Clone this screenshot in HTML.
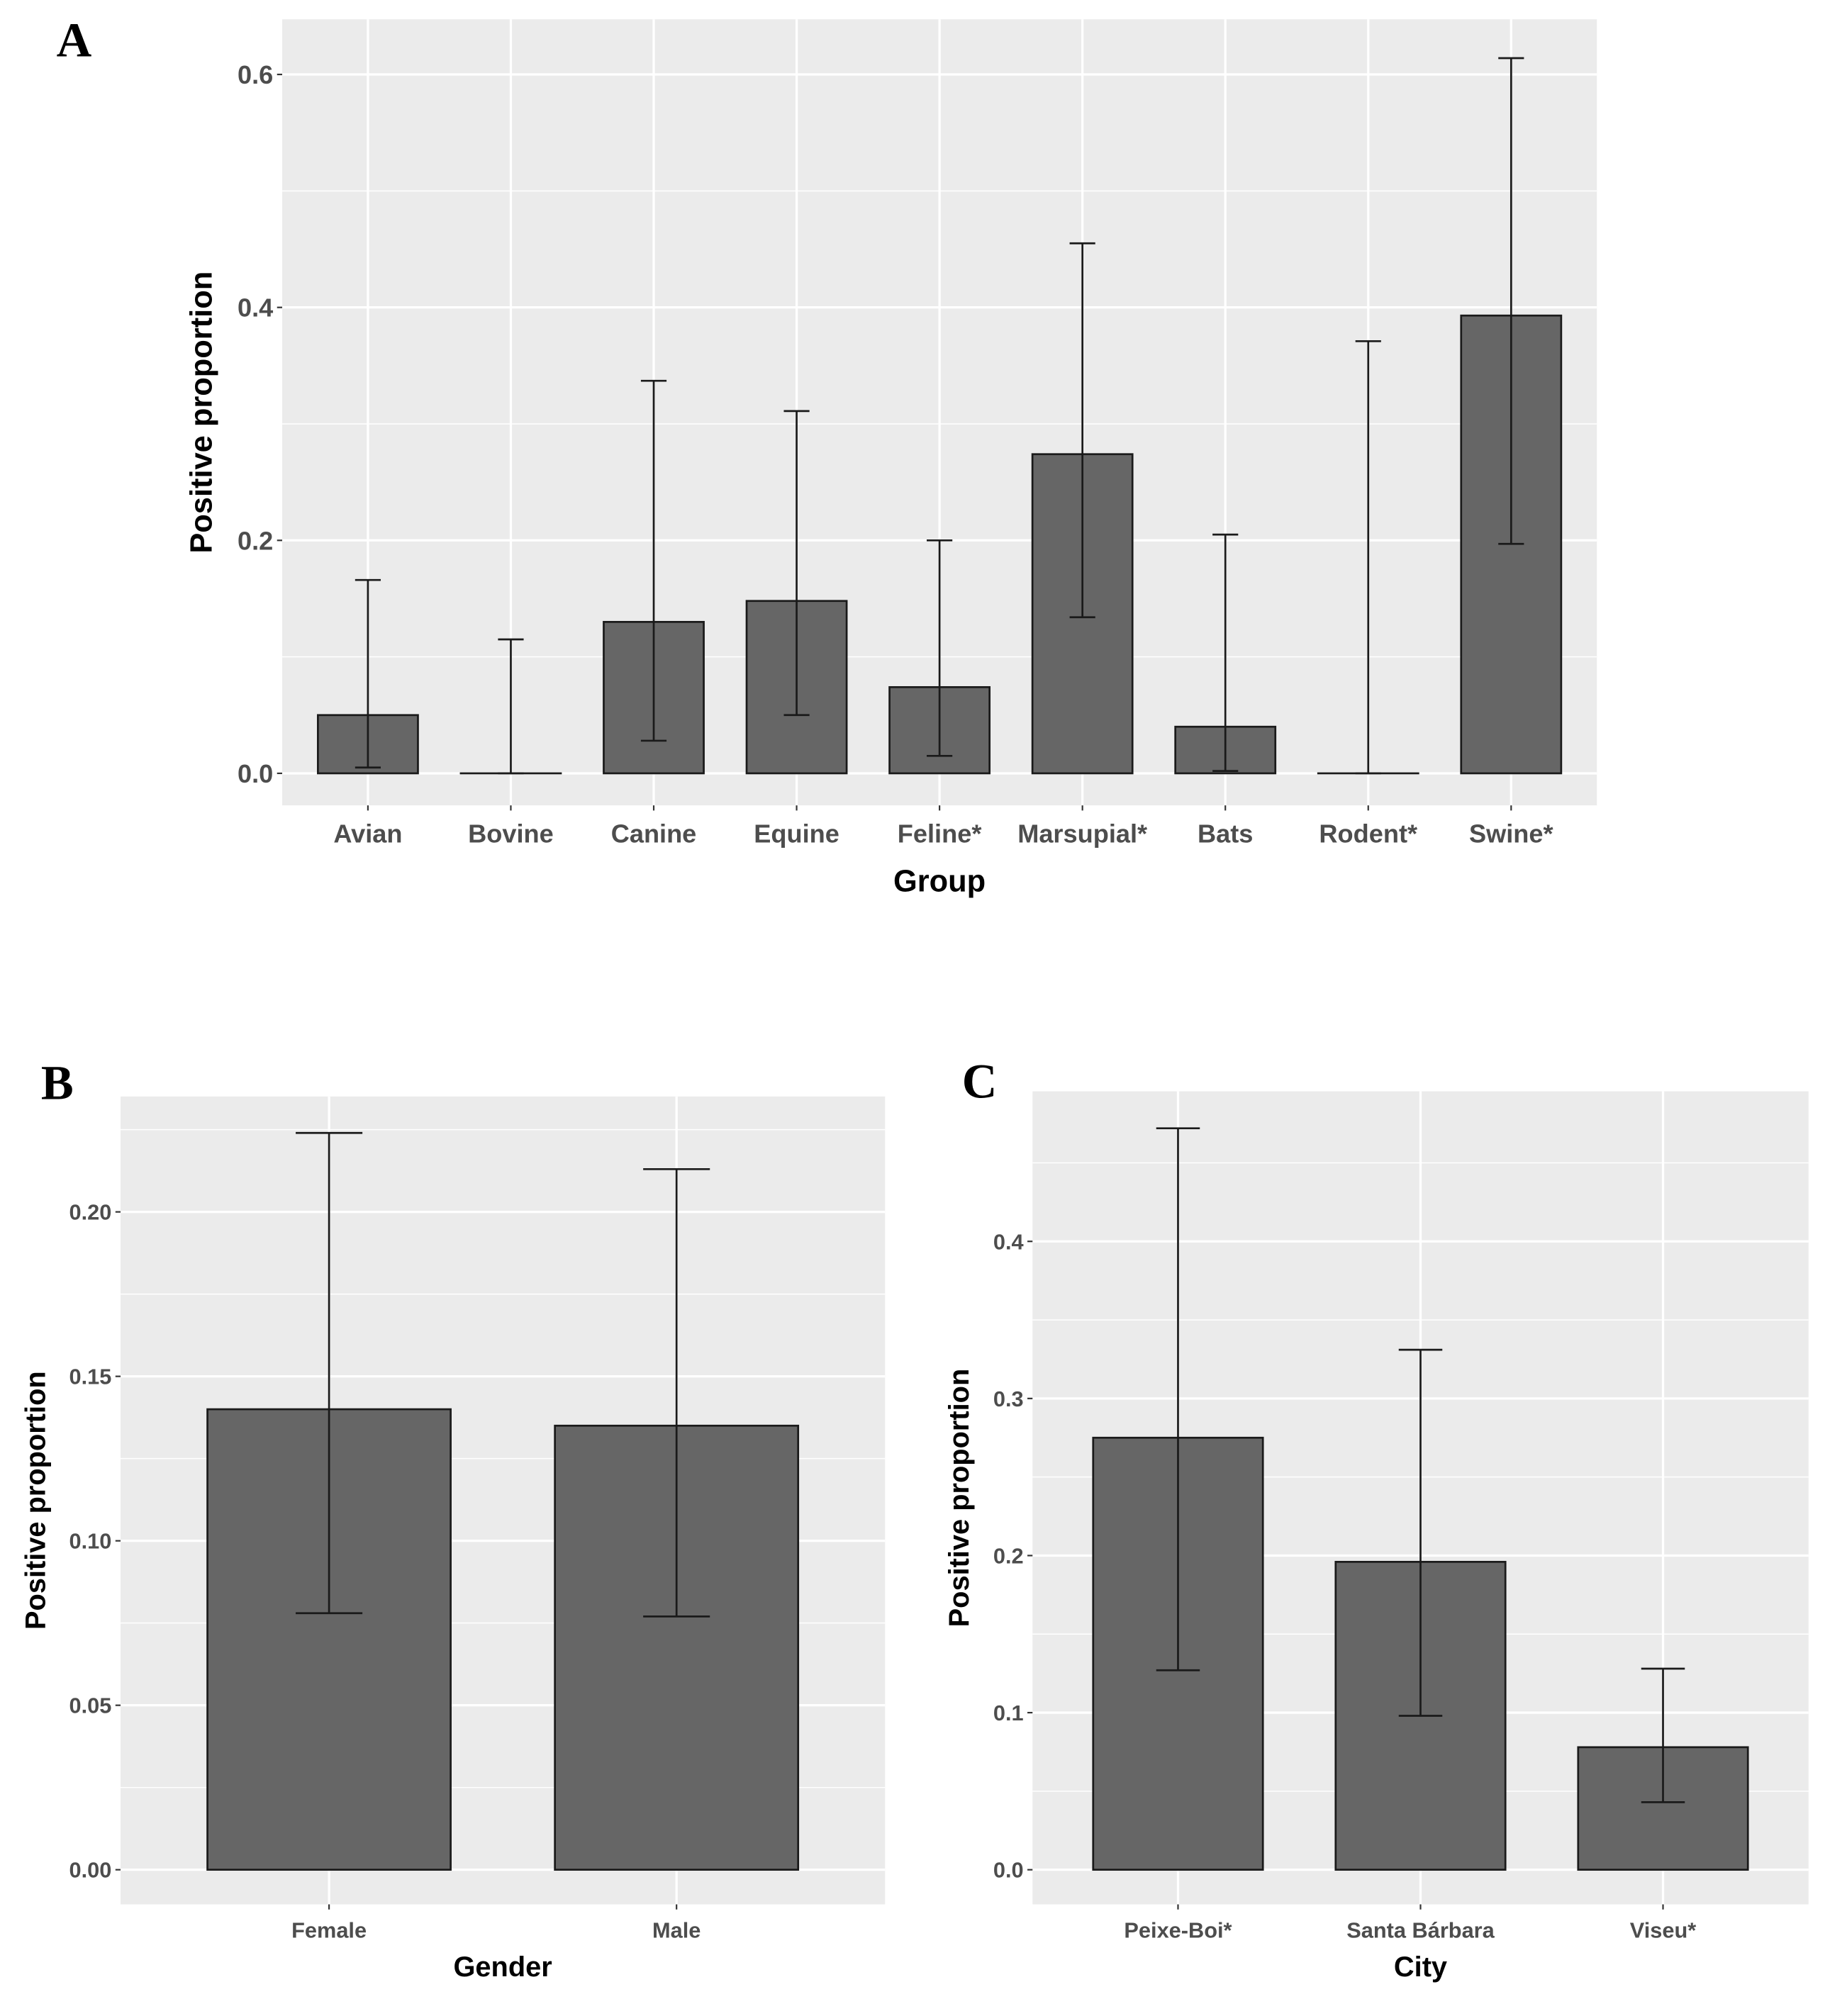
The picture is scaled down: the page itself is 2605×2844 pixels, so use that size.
<!DOCTYPE html>
<html><head><meta charset="utf-8"><style>
html,body{margin:0;padding:0;background:#fff}
svg{display:block}
text{font-family:"Liberation Sans",Arial,sans-serif}
text.plabel{font-family:"Liberation Serif","Times New Roman",serif}
</style></head><body>
<svg id="fig" width="2605" height="2844" viewBox="0 0 1440 1572" xmlns="http://www.w3.org/2000/svg">
<text class="plabel" x="44" y="44" font-weight="bold" font-size="38">A</text>
<text class="plabel" x="32" y="857" font-weight="bold" font-size="38">B</text>
<text class="plabel" x="750" y="856" font-weight="bold" font-size="38">C</text>
</svg>
<script>
const catsA = ["Avian","Bovine","Canine","Equine","Feline*","Marsupial*","Bats","Rodent*","Swine*"];
const valsA = [0.05,0,0.13,0.148,0.074,0.274,0.04,0,0.393];
const lowA = [0.005,0,0.028,0.05,0.015,0.134,0.002,0,0.197];
const highA = [0.166,0.115,0.337,0.311,0.2,0.455,0.205,0.371,0.614];
const ticksA = [0,0.2,0.4,0.6];
const tickLabelsA = ["0.0","0.2","0.4","0.6"];

const catsB = ["Female","Male"];
const valsB = [0.140,0.135];
const lowB = [0.078,0.077];
const highB = [0.224,0.213];
const ticksB = [0,0.05,0.10,0.15,0.20];
const tickLabelsB = ["0.00","0.05","0.10","0.15","0.20"];

const catsC = ["Peixe-Boi*","Santa Bárbara","Viseu*"];
const valsC = [0.275,0.196,0.078];
const lowC = [0.127,0.098,0.043];
const highC = [0.472,0.331,0.128];
const ticksC = [0,0.1,0.2,0.3,0.4];
const tickLabelsC = ["0.0","0.1","0.2","0.3","0.4"];

const NS="http://www.w3.org/2000/svg";
const svg=document.getElementById('fig');
function mk(tag,attrs,parent){const e=document.createElementNS(NS,tag);for(const k in attrs)e.setAttribute(k,attrs[k]);(parent||svg).appendChild(e);return e;}

function panel(cfg){
  const g=mk('g',{});
  
  
  const {x0,x1,y0,y1,zeroY,topVal,topY}=cfg;
  const ys=v=>zeroY-(v/topVal)*(zeroY-topY);
  const n=cfg.cats.length, step=(x1-x0)/(n+0.2);
  const xs=i=>x0+step*(0.6+i);
  const bg=mk('rect',{x:x0,y:y0,width:x1-x0,height:y1-y0,fill:'#ebebeb'},g);
  
  
  const dt=cfg.ticks[1]-cfg.ticks[0];
  for(let v=-dt/2; ; v+=dt){const y=ys(v); if(y<y0) break; if(y>y1) continue;
    mk('line',{x1:x0,x2:x1,y1:y,y2:y,stroke:'#fff','stroke-width':0.8},g);}
  cfg.ticks.forEach((t,i)=>{const y=ys(t);
    const gl=mk('line',{x1:x0,x2:x1,y1:y,y2:y,stroke:'#fff','stroke-width':1.8},g);
    
    
    mk('line',{x1:x0-4,x2:x0,y1:y,y2:y,stroke:'#333','stroke-width':1.2},g);
    const tl=mk('text',{x:x0-7,y:y+cfg.fs*0.36,'text-anchor':'end','font-size':cfg.fs,'font-weight':'bold',fill:'#4d4d4d'},g);
    tl.textContent=cfg.tickLabels[i];
    
    
  });
  cfg.cats.forEach((c,i)=>{const x=xs(i);
    mk('line',{x1:x,x2:x,y1:y0,y2:y1,stroke:'#fff','stroke-width':1.8},g);
    mk('line',{x1:x,x2:x,y1:y1,y2:y1+4,stroke:'#333','stroke-width':1.2},g);
    const tl=mk('text',{x:x,y:y1+cfg.fs+9,'text-anchor':'middle','font-size':cfg.fs,'font-weight':'bold',fill:'#4d4d4d'},g);
    tl.textContent=c;
    
    
  });
  const bw=step*0.7;
  cfg.cats.forEach((c,i)=>{const x=xs(i);
    const b=mk('rect',{x:x-bw/2,y:ys(cfg.vals[i]),width:bw,height:Math.max(0.01,zeroY-ys(cfg.vals[i])),fill:'#666666',stroke:'#1a1a1a','stroke-width':1.5},g);
    
    
    const eg=mk('g',{stroke:'#1a1a1a','stroke-width':1.5},g);
    
    
    const yl=ys(cfg.low[i]), yh=ys(cfg.high[i]), cw=cfg.cap;
    mk('line',{x1:x,x2:x,y1:yl,y2:yh},eg);
    mk('line',{x1:x-cw,x2:x+cw,y1:yl,y2:yl},eg);
    mk('line',{x1:x-cw,x2:x+cw,y1:yh,y2:yh},eg);
  });
  const xt=mk('text',{x:(x0+x1)/2,y:cfg.xtY,'text-anchor':'middle','font-size':cfg.tfs,'font-weight':'bold',fill:'#000'},g);
  xt.textContent=cfg.xtitle;
  
  
  const yt=mk('text',{x:0,y:0,'text-anchor':'middle','font-size':cfg.tfs,'font-weight':'bold',fill:'#000',transform:`translate(${cfg.ytX},${(y0+y1)/2}) rotate(-90)`},g);
  yt.textContent='Positive proportion';
  
  
}
panel({name:'panel-a-group-chart',x0:220,x1:1245,y0:15,y1:628,zeroY:603,topVal:0.6,topY:58,cats:catsA,vals:valsA,low:lowA,high:highA,ticks:ticksA,tickLabels:tickLabelsA,fs:20,tfs:24,cap:10,xtitle:'Group',xtY:695,ytX:165});
panel({name:'panel-b-gender-chart',x0:94,x1:690,y0:855,y1:1485,zeroY:1458,topVal:0.20,topY:945,cats:catsB,vals:valsB,low:lowB,high:highB,ticks:ticksB,tickLabels:tickLabelsB,fs:17,tfs:22,cap:26,xtitle:'Gender',xtY:1541,ytX:35});
panel({name:'panel-c-city-chart',x0:805,x1:1410,y0:851,y1:1485,zeroY:1458,topVal:0.4,topY:968,cats:catsC,vals:valsC,low:lowC,high:highC,ticks:ticksC,tickLabels:tickLabelsC,fs:17,tfs:22,cap:17,xtitle:'City',xtY:1541,ytX:755});
</script>
</body></html>
